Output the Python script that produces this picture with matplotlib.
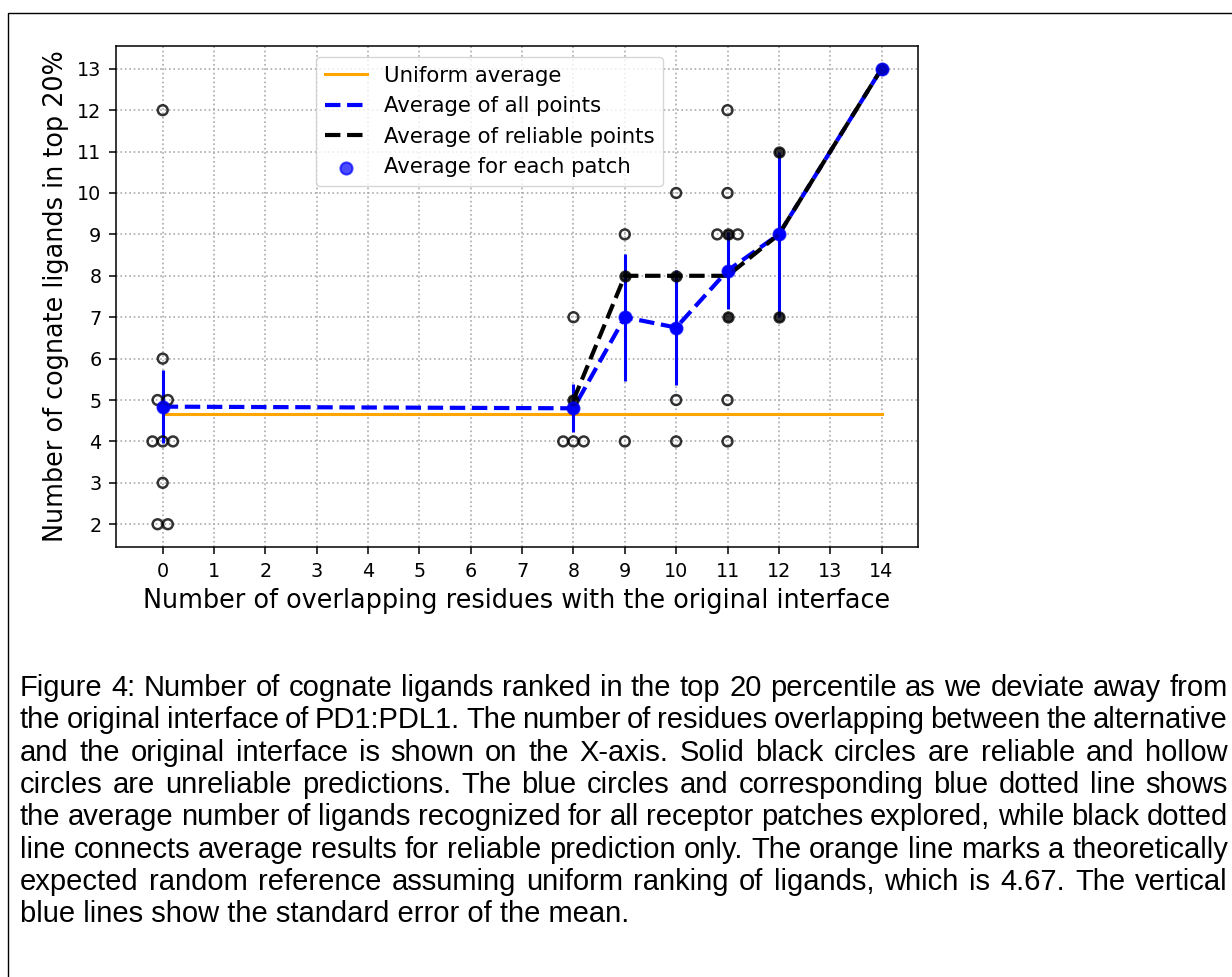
import numpy as np
import matplotlib
matplotlib.use('Agg')
import matplotlib.pyplot as plt
from matplotlib.patches import Rectangle

# individual predictions: overlap with original interface, ligands in top 20%, reliable?
pt_overlap = [0, 0, 0, 0, 0, 0, 0, 0, 0, 0,
              8, 8, 8, 8, 8,
              9, 9, 9,
              10, 10, 10, 10,
              11, 11, 11, 11, 11, 11, 11, 11,
              12, 12,
              14]
pt_ligands = [12, 6, 5, 5, 4, 4, 4, 3, 2, 2,
              7, 5, 4, 4, 4,
              9, 8, 4,
              10, 8, 5, 4,
              12, 10, 9, 9, 9, 7, 5, 4,
              11, 7,
              13]
pt_reliable = [0, 0, 0, 0, 0, 0, 0, 0, 0, 0,
               0, 1, 0, 0, 0,
               0, 1, 0,
               0, 1, 0, 0,
               0, 0, 0, 1, 0, 1, 0, 0,
               1, 1,
               1]

# per-patch averages (all points) and standard error of the mean
patch_x = [0, 8, 9, 10, 11, 12, 14]
avg_all = [4.84, 4.8, 7.0, 6.75, 8.125, 9.0, 13.0]
sem_all = [0.89, 0.58, 1.53, 1.38, 0.93, 2.0, 0.0]

# averages of reliable points only
rel_x = [8, 9, 10, 11, 12, 14]
avg_rel = [5, 8, 8, 8, 9, 13]

uniform_avg = 4.67

caption = [
    "Figure 4: Number of cognate ligands ranked in the top 20 percentile as we deviate away from",
    "the original interface of PD1:PDL1. The number of residues overlapping between the alternative",
    "and the original interface is shown on the X-axis. Solid black circles are reliable and hollow",
    "circles are unreliable predictions. The blue circles and corresponding blue dotted line shows",
    "the average number of ligands recognized for all receptor patches explored, while black dotted",
    "line connects average results for reliable prediction only. The orange line marks a theoretically",
    "expected random reference assuming uniform ranking of ligands, which is 4.67. The vertical",
    "blue lines show the standard error of the mean.",
]

W, H = 1232, 977
fig = plt.figure(figsize=(W/100, H/100), dpi=100)
fig.patches.append(Rectangle((8/W, -0.1), 1.2, 1.1 - 13/H, transform=fig.transFigure,
                             fill=False, edgecolor='black', linewidth=1.0))

ax = fig.add_axes([116/W, 1-547/H, (918-116)/W, (547-46)/H])

# spread out duplicated points side by side (0.2 apart)
px = np.array(pt_overlap, dtype=float)
py = np.array(pt_ligands, dtype=float)
rel = np.array(pt_reliable, dtype=bool)
for key in set(zip(pt_overlap, pt_ligands)):
    idx = [i for i in range(len(px)) if (pt_overlap[i], pt_ligands[i]) == key]
    n = len(idx)
    for k, i in enumerate(idx):
        px[i] = key[0] + (k - (n-1)/2)*0.2

ax.plot([patch_x[0], patch_x[-1]], [uniform_avg]*2, color='orange', lw=2.2, label='Uniform average', zorder=2)
ax.errorbar(patch_x, avg_all, yerr=sem_all, fmt='o', color='blue', ms=8, elinewidth=2.2, zorder=2)
ax.plot(patch_x, avg_all, '--', color='blue', lw=3, label='Average of all points', zorder=3)
ax.plot(rel_x, avg_rel, '--', color='black', lw=3, label='Average of reliable points', zorder=4)
ax.scatter(px[~rel], py[~rel], s=50, facecolors='none', edgecolors='black', linewidths=1.8, alpha=0.8, zorder=5)
ax.scatter(px[rel], py[rel], s=50, color='black', linewidths=1.8, alpha=0.8, zorder=5)
ax.scatter(patch_x, avg_all, s=75, color='blue', alpha=0.7, linewidths=1.5, label='Average for each patch', zorder=6)

ax.set_xticks(range(0, 15))
ax.set_yticks(range(2, 14))
ax.grid(True, linestyle=':', color='#aaaaaa', lw=1.2)
ax.set_axisbelow(True)
ax.tick_params(labelsize=13.8, length=5, width=1.1, pad=5.5)
for s in ax.spines.values():
    s.set_linewidth(1.1)
ax.set_xlabel('Number of overlapping residues with the original interface', fontsize=18.4, labelpad=5)
ax.set_ylabel('Number of cognate ligands in top 20%', fontsize=18.4, labelpad=6)
handles, labels = ax.get_legend_handles_labels()
ax.legend(handles, labels, loc='upper left', bbox_to_anchor=((316-116)/802, (547-57)/501), fontsize=15.3,
          borderaxespad=0)

# justified caption below the chart
renderer = fig.canvas.get_renderer()
x0, x1 = 20, 1228
y0, dy = 688, 32.3
cap_font = dict(family='Liberation Sans', fontsize=21, va='center')
for j, line in enumerate(caption):
    words = line.split(' ')
    y = 1 - (y0 + j*dy)/H
    if j == len(caption) - 1:
        fig.text(x0/W, y, line, **cap_font)
        continue
    texts = [fig.text(0, y, w, **cap_font) for w in words]
    widths = [t.get_window_extent(renderer).width for t in texts]
    gap = max((x1 - x0 - sum(widths)) / (len(words) - 1), 3)
    x = x0
    for t, w in zip(texts, widths):
        t.set_x(x/W)
        x += w + gap

fig.savefig('out.png', dpi=100)
